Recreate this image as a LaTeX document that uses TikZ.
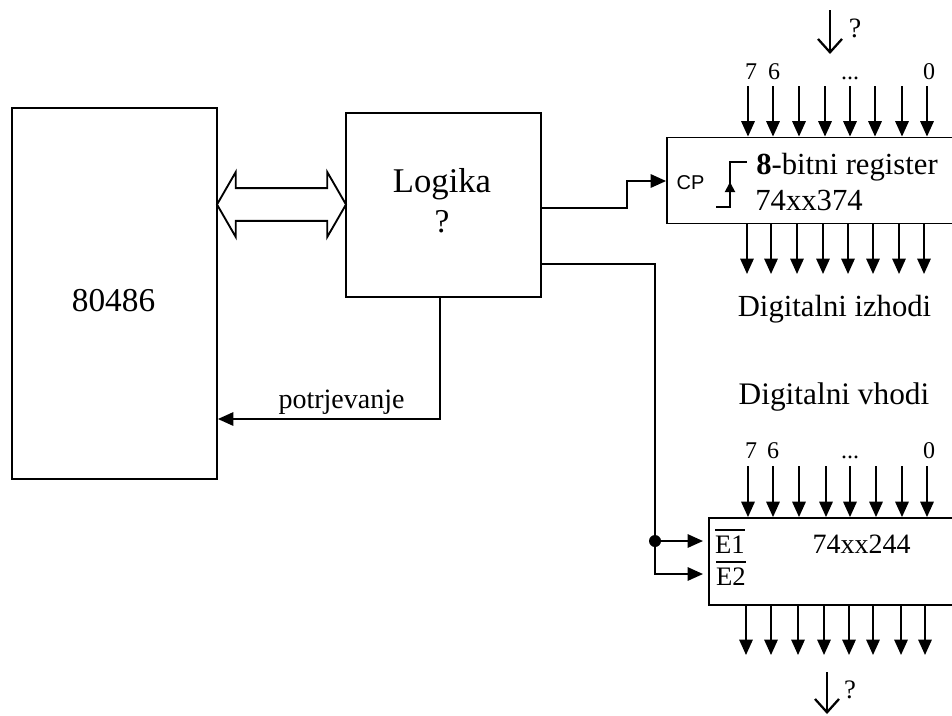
\documentclass[tikz,border=0pt]{standalone}
\usepackage{fontspec}
\setmainfont{Liberation Serif}
\setsansfont{Liberation Sans}
\usetikzlibrary{arrows.meta, shapes.arrows}
\newcommand{\barsig}[1]{\vbox{\hrule height 1.3pt \kern 3.5pt \hbox{#1}}}
\tikzset{
    block/.style={draw, line width=1.4pt, inner sep=0pt},
    sig/.style={line width=1.4pt, -{Triangle[length=11.5pt,width=10pt]}},
    bigsig/.style={line width=1.7pt, -{Straight Barb[length=10pt,width=18pt,line width=1.7pt]}},
    lbl/.style={inner sep=0pt, anchor=base, font=\fontsize{23}{25}\selectfont},
    pin/.style={inner sep=0pt, anchor=base, font=\fontsize{18}{20}\selectfont}
}

\begin{document}
\begin{tikzpicture}[x=0.75pt, y=-0.75pt]
    \useasboundingbox (0,0) rectangle (952,715);
    % boxes
    \node[block, minimum width=153.75pt, minimum height=278.25pt] (cpu) at (114.5,293.5) {};
    \node[block, minimum width=146.25pt, minimum height=138pt] (logic) at (443.5,205) {};
    \node[block, minimum width=216pt, minimum height=64.5pt] (reg) at (811,180.5) {};
    \node[block, minimum width=184.5pt, minimum height=65.25pt] (buf) at (832,561.5) {};
    % texts
    \node[lbl, font=\fontsize{25}{27}\selectfont] (cpulbl) at (113.5,311) {80486};
    \node[lbl, font=\fontsize{26}{28}\selectfont] (logiclbl) at (442,192) {Logika};
    \node[lbl, font=\fontsize{25}{27}\selectfont] (logicq) at (442,232) {?};
    \node[lbl] (reglbl) at (847,174) {\textbf{8}-bitni register};
    \node[lbl] (regtype) at (809,210) {74xx374};
    \node[lbl, font=\sffamily\fontsize{15}{17}\selectfont] (cplbl) at (690.5,189) {CP};
    \node[lbl] (outlbl) at (834.5,316) {Digitalni izhodi};
    \node[lbl, font=\fontsize{23.5}{25}\selectfont] (inlbl) at (834,404) {Digitalni vhodi};
    \node[lbl, font=\fontsize{21}{23}\selectfont] (buftype) at (861.5,553) {74xx244};
    \node[lbl, font=\fontsize{20}{22}\selectfont] (e1lbl) at (730,553) {\barsig{E1}};
    \node[lbl, font=\fontsize{20}{22}\selectfont] (e2lbl) at (731,585) {\barsig{E2}};
    \node[lbl, font=\fontsize{21}{23}\selectfont] (acklbl) at (341.5,408) {potrjevanje};
    % bit numbers
    \node[pin] (r7) at (751,79) {7};
    \node[pin] (r6) at (774,79) {6};
    \node[pin] (rd) at (850,79) {...};
    \node[pin] (r0) at (929,79) {0};
    \node[pin] (b7) at (751,458) {7};
    \node[pin] (b6) at (773,458) {6};
    \node[pin] (bd) at (850,458) {...};
    \node[pin] (b0) at (929,458) {0};
    % question marks
    \node[pin, font=\fontsize{21}{23}\selectfont] (qtop) at (855,37) {?};
    \node[pin, font=\fontsize{20}{22}\selectfont] (qbot) at (850,698) {?};
    % bus
    \node[draw, line width=1.4pt, double arrow, double arrow tip angle=120, double arrow head extend=12pt,
          minimum height=96.75pt, inner xsep=0pt, inner ysep=11.6pt] (bus) at (281.5,204.5) {};
    % data lines
    \foreach \x in {748,773,799,825,850,875,902,927} {
        \coordinate (rin\x) at (\x,86);
        \draw[sig] (rin\x) -- (rin\x |- reg.north);
    }
    \foreach \x in {747,771,797,823,848,873,899,924} {
        \coordinate (rout\x) at (\x,274);
        \draw[sig] (rout\x |- reg.south) -- (rout\x);
    }
    \foreach \x in {748,773,799,826,850,876,902,927} {
        \coordinate (bin\x) at (\x,466);
        \draw[sig] (bin\x) -- (bin\x |- buf.north);
    }
    \foreach \x in {746,771,798,824,849,873,901,925} {
        \coordinate (bout\x) at (\x,655);
        \draw[sig] (bout\x |- buf.south) -- (bout\x);
    }
    % free arrows
    \coordinate (topa) at (830,10);
    \coordinate (topb) at (830,54);
    \coordinate (bota) at (827,672);
    \coordinate (botb) at (827,714);
    \draw[bigsig] (topa) -- (topb);
    \draw[bigsig] (bota) -- (botb);
    % clock
    \coordinate (clka) at (716,207);
    \coordinate (clkb) at (730,162);
    \coordinate (clkc) at (747,162);
    \coordinate (clkd) at (730,182);
    \draw[line width=1.4pt] (clka) -| (clkb) -- (clkc);
    \draw[line width=1.4pt, -{Triangle[length=7.5pt,width=7.5pt]}] (clkd |- clka) -- (clkd);
    % logic outputs
    \coordinate (lo1) at (logic.east |- 0,208);
    \coordinate (lo2) at (logic.east |- 0,264);
    \coordinate (bend1) at (627,181);
    \node[circle, fill, inner sep=0pt, minimum size=9pt] (dot) at (655,541) {};
    \coordinate (e1in) at (703,541);
    \coordinate (e2in) at (703,574);
    \coordinate (ackin) at (440,419);
    \draw[sig] (lo1) -| (bend1) -- (reg.west |- bend1);
    \draw[line width=1.4pt] (lo2) -| (dot);
    \draw[sig] (dot) -- (e1in);
    \draw[sig] (dot) |- (e2in);
    \draw[sig] (logic.south -| ackin) -- (ackin) -- (cpu.east |- ackin);
\end{tikzpicture}
\end{document}
